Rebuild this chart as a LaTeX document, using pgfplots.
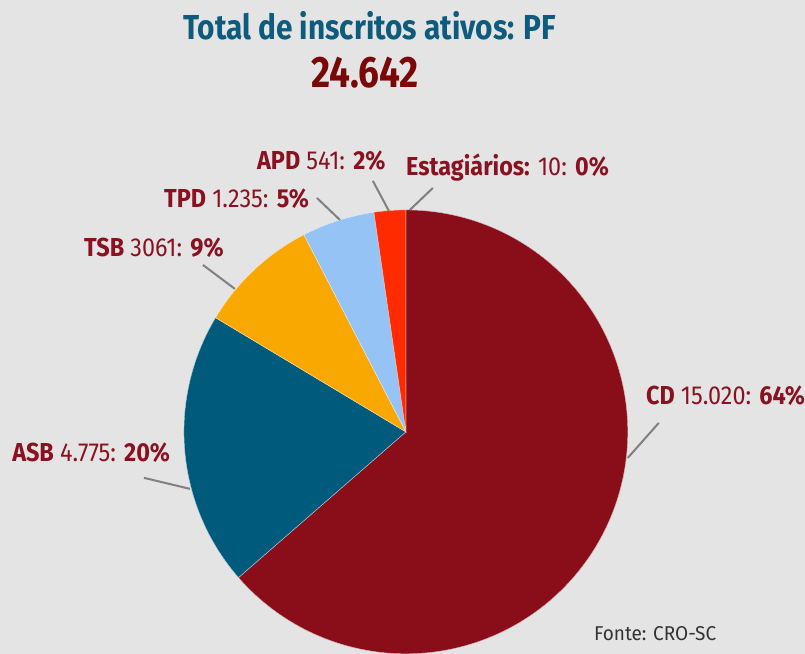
\documentclass[border=0pt]{standalone}
\usepackage{pgfplots}
\pgfplotsset{compat=1.18}
\usepackage{fontspec}
\setmainfont{Fira Sans}[FakeStretch=0.90]
\newfontfamily\titlefont{Fira Sans}[FakeStretch=0.86]
\newfontfamily\numfont{Fira Sans}[FakeStretch=0.84]
\newfontfamily\srcfont{Fira Sans}[FakeStretch=0.95]
\definecolor{bg}{HTML}{E4E4E4}
\definecolor{cdred}{HTML}{8A0E1A}
\definecolor{asbblue}{HTML}{005A7C}
\definecolor{tsborange}{HTML}{F8A800}
\definecolor{tpdblue}{HTML}{96C3F6}
\definecolor{apdred}{HTML}{FF2A00}
\definecolor{labred}{HTML}{8B1020}
\definecolor{titleteal}{HTML}{0D5C7D}
\definecolor{numred}{HTML}{7A0808}
\definecolor{leader}{HTML}{808080}
\definecolor{srcgray}{HTML}{333333}
% shares of the circle as drawn (percent)
\def\valCD{63.6}
\def\valASB{20.0}
\def\valTSB{8.8}
\def\valTPD{5.3}
\def\valAPD{2.3}
\begin{document}
\begin{tikzpicture}
\fill[bg] (0,0) rectangle (603.75pt,490.5pt);
\begin{axis}[at={(0,0)}, anchor=south west, scale only axis,
  width=603.75pt, height=490.5pt,
  xmin=0, xmax=805, ymin=0, ymax=654, hide axis, clip=false]
\pgfmathsetmacro\aA{90}
\pgfmathsetmacro\aB{\aA-3.6*\valCD}
\pgfmathsetmacro\aC{\aB-3.6*\valASB}
\pgfmathsetmacro\aD{\aC-3.6*\valTSB}
\pgfmathsetmacro\aE{\aD-3.6*\valTPD}
\pgfmathsetmacro\aF{\aE-3.6*\valAPD}
\addplot[fill=cdred, draw=white!70!cdred, line width=0.3pt, domain=\aB:\aA, samples=150, variable=\t]
  ({406+222*cos(\t)},{222+222*sin(\t)}) -- (axis cs:406,222) -- cycle;
\addplot[fill=asbblue, draw=white!70!asbblue, line width=0.3pt, domain=\aC:\aB, samples=60, variable=\t]
  ({406+222*cos(\t)},{222+222*sin(\t)}) -- (axis cs:406,222) -- cycle;
\addplot[fill=tsborange, draw=white!70!tsborange, line width=0.3pt, domain=\aD:\aC, samples=40, variable=\t]
  ({406+222*cos(\t)},{222+222*sin(\t)}) -- (axis cs:406,222) -- cycle;
\addplot[fill=tpdblue, draw=white!70!tpdblue, line width=0.3pt, domain=\aE:\aD, samples=30, variable=\t]
  ({406+222*cos(\t)},{222+222*sin(\t)}) -- (axis cs:406,222) -- cycle;
\addplot[fill=apdred, draw=white!70!apdred, line width=0.3pt, domain=\aF:\aE, samples=20, variable=\t]
  ({406+222*cos(\t)},{222+222*sin(\t)}) -- (axis cs:406,222) -- cycle;
% leader lines
\addplot[leader, line width=1.5pt] coordinates {(628,196) (659,231)};
\addplot[leader, line width=1.5pt] coordinates {(190,165) (144,176)};
\addplot[leader, line width=1.5pt] coordinates {(235,365) (203,389)};
\addplot[leader, line width=1.5pt] coordinates {(340,434) (317,456)};
\addplot[leader, line width=1.5pt] coordinates {(389,443) (373,473)};
\addplot[leader, line width=1.5pt] coordinates {(410,444) (433,466)};
% titles
\node[anchor=base, text=titleteal, font=\titlefont\bfseries\fontsize{26}{29}\selectfont] at (axis cs:370,614) {Total de inscritos ativos: PF};
\node[anchor=base, text=numred, font=\numfont\bfseries\fontsize{33}{37}\selectfont] at (axis cs:365,566) {24.642};
% labels
\tikzset{lab/.style={anchor=base west, text=labred, inner sep=0pt, font=\fontsize{19.5}{22}\selectfont}}
\node[lab] at (axis cs:646,249) {\textbf{CD} 15.020: \textbf{64\%}};
\node[lab] at (axis cs:12,192) {\textbf{ASB} 4.775: \textbf{20\%}};
\node[lab] at (axis cs:84,397) {\textbf{TSB} 3061: \textbf{9\%}};
\node[lab] at (axis cs:164,446) {\textbf{TPD} 1.235: \textbf{5\%}};
\node[lab] at (axis cs:257,484) {\textbf{APD} 541: \textbf{2\%}};
\node[lab] at (axis cs:406,478) {\textbf{Estagiários:} 10: \textbf{0\%}};
\node[anchor=base west, inner sep=0pt, text=srcgray, font=\srcfont\fontsize{15}{17}\selectfont] at (axis cs:594,13) {Fonte: CRO-SC};
\end{axis}
\end{tikzpicture}
\end{document}
